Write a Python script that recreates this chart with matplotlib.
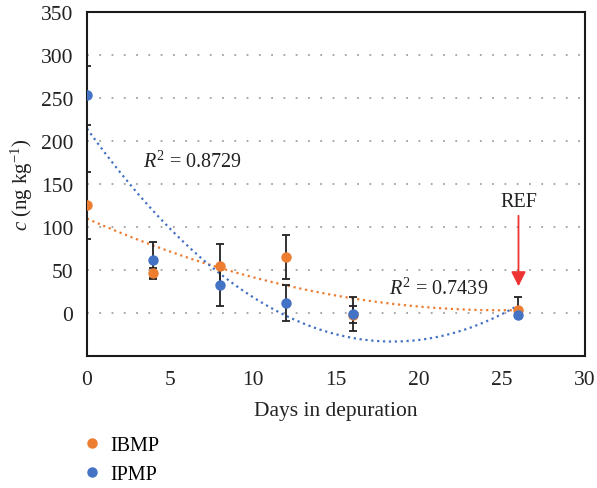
import numpy as np
import matplotlib.pyplot as plt

plt.rcParams['font.family'] = ['Liberation Serif', 'DejaVu Serif']
plt.rcParams['mathtext.fontset'] = 'custom'
plt.rcParams['mathtext.it'] = 'Liberation Serif:italic'
plt.rcParams['mathtext.rm'] = 'Liberation Serif'

# days in depuration
days = [0, 4, 8, 12, 16, 26]

# IBMP (orange)
ibmp = [125, 46, 55, 65, -2, 4]
ibmp_err_lo = [39, 6, 25, 26, 10, 5]
ibmp_err_hi = [39, 6, 25, 26, 10, 15]

# IPMP (blue)
ipmp = [253, 62, 32, 12, -1.5, -2]
ipmp_err = [34, 21, 24, 21, 20, 0]

r2_ibmp = "0.7439"
r2_ipmp = "0.8729"

orange = '#ED7D31'
blue = '#4472C4'
txt = '#222222'
fs = 14.5

fig = plt.figure(figsize=(5.97, 4.89), dpi=100)
ax = fig.add_axes([0.1457, 0.27, 0.834, 0.7034])

# trendlines (2nd order polynomial, like the Excel ones)
xs = np.linspace(0, 26, 200)
c_ibmp = np.polyfit(days, ibmp, 2)
c_ipmp = np.polyfit(days, ipmp, 2)
ax.plot(xs, np.polyval(c_ibmp, xs), color=orange, linestyle=':', linewidth=1.6, zorder=2)
ax.plot(xs, np.polyval(c_ipmp, xs), color=blue, linestyle=':', linewidth=1.6, zorder=2)

ax.errorbar(days, ibmp, yerr=[ibmp_err_lo, ibmp_err_hi], fmt='none', ecolor=txt,
            elinewidth=1.3, capsize=3, capthick=1.3, zorder=3)
ax.errorbar(days, ipmp, yerr=ipmp_err, fmt='none', ecolor=txt,
            elinewidth=1.3, capsize=3, capthick=1.3, zorder=3)

ax.plot(days, ibmp, 'o', color=orange, markersize=6.5, label='IBMP', zorder=4)
ax.plot(days, ipmp, 'o', color=blue, markersize=6.5, label='IPMP', zorder=5)

ax.set_xlim(0, 30)
ax.set_ylim(-50, 350)
ax.set_xticks(range(0, 31, 5))
ax.set_yticks(range(0, 351, 50))
ax.tick_params(length=0, labelsize=15.5, colors=txt)
ax.tick_params(axis='y', pad=10)
ax.tick_params(axis='x', pad=10)
for gy in range(0, 301, 50):
    ax.axhline(gy, color='#a0a0a0', linestyle=(0, (1, 5.8)), linewidth=1.3, zorder=1)
for s in ax.spines.values():
    s.set_linewidth(1.5)
    s.set_color('#1a1a1a')

ax.set_xlabel('Days in depuration', fontsize=15.5, labelpad=9, color=txt)
ax.set_ylabel(r'$c$ (ng kg$^{-1}$)', fontsize=15, labelpad=4, color=txt)

ax.text(3.4, 176, r'$R^2$ = ' + r2_ipmp, fontsize=fs, va='center', color=txt)
ax.text(18.2, 29, r'$R^2$ = ' + r2_ibmp, fontsize=fs, va='center', color=txt)

ax.text(26, 130, 'REF', fontsize=fs, ha='center', va='center', color=txt)
ax.annotate('', xy=(26, 31), xytext=(26, 113),
            arrowprops=dict(arrowstyle='-|>', color='#EE3333', lw=1.3,
                            mutation_scale=22, shrinkA=0, shrinkB=0))

fig.legend(loc='center left', bbox_to_anchor=(82 / 597, 1 - 461 / 489), frameon=False,
           fontsize=fs, handlelength=1.0, handletextpad=0.4, labelspacing=0.45,
           borderpad=0, borderaxespad=0)

fig.savefig('out.png', dpi=100)
